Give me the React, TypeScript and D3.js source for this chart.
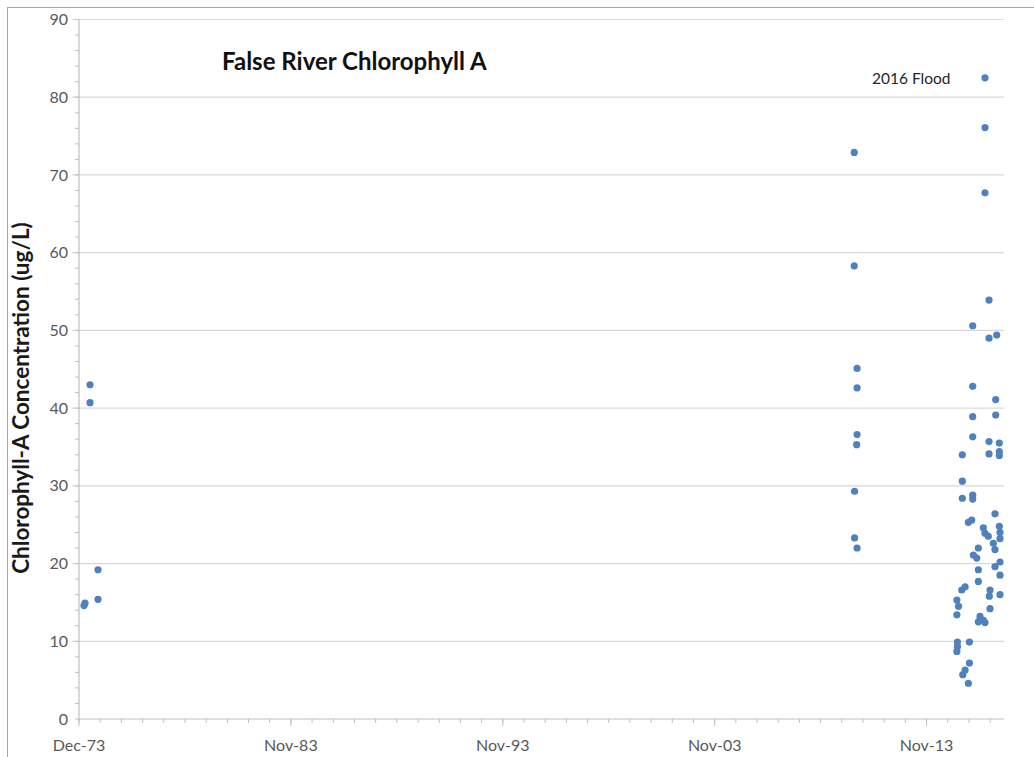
import React from "react";
import * as d3 from "d3";

// ---- data (sample date, chlorophyll-a ug/L) ----
const early1970s: [string, number][] = [
  ["1974-02-25", 14.6],
  ["1974-03-14", 14.9],
  ["1974-06-09", 43.0],
  ["1974-06-09", 40.7],
  ["1974-10-24", 19.2],
  ["1974-10-24", 15.4],
];

const survey2010: [string, number][] = [
  ["2010-06-24", 72.9],
  ["2010-06-24", 58.3],
  ["2010-06-30", 29.3],
  ["2010-06-30", 23.3],
  ["2010-08-12", 45.1],
  ["2010-08-12", 42.6],
  ["2010-08-12", 36.6],
  ["2010-08-05", 35.3],
  ["2010-08-12", 22.0],
];

const survey2015to2017: [string, number][] = [
  ["2016-08-24", 82.5],
  ["2016-08-24", 76.1],
  ["2016-08-24", 67.7],
  ["2016-11-01", 53.9],
  ["2016-01-25", 50.6],
  ["2016-11-01", 49.0],
  ["2017-03-13", 49.4],
  ["2016-01-25", 42.8],
  ["2017-02-24", 41.1],
  ["2016-01-25", 38.9],
  ["2017-02-24", 39.1],
  ["2016-01-25", 36.3],
  ["2016-11-01", 35.7],
  ["2017-04-27", 35.5],
  ["2016-11-01", 34.1],
  ["2017-04-27", 34.4],
  ["2017-04-27", 33.9],
  ["2015-07-30", 34.0],
  ["2015-07-30", 30.6],
  ["2015-07-30", 28.4],
  ["2016-01-25", 28.8],
  ["2016-01-25", 28.3],
  ["2016-01-08", 25.6],
  ["2015-11-11", 25.3],
  ["2017-02-12", 26.4],
  ["2016-07-26", 24.6],
  ["2017-04-27", 24.8],
  ["2016-08-24", 23.9],
  ["2016-10-19", 23.5],
  ["2017-05-09", 24.0],
  ["2017-05-09", 23.2],
  ["2017-01-14", 22.6],
  ["2017-02-12", 21.8],
  ["2016-05-01", 22.0],
  ["2016-02-05", 21.1],
  ["2016-04-04", 20.7],
  ["2017-05-09", 20.2],
  ["2017-02-12", 19.6],
  ["2017-05-09", 18.5],
  ["2016-05-01", 19.2],
  ["2016-05-01", 17.7],
  ["2015-09-16", 17.0],
  ["2015-07-20", 16.6],
  ["2015-04-27", 15.3],
  ["2015-05-26", 14.5],
  ["2015-04-27", 13.4],
  ["2016-11-18", 16.6],
  ["2016-11-06", 15.8],
  ["2017-05-09", 16.0],
  ["2016-11-18", 14.2],
  ["2016-05-30", 13.2],
  ["2016-07-26", 12.7],
  ["2016-05-01", 12.5],
  ["2016-08-24", 12.4],
  ["2015-05-07", 9.9],
  ["2015-11-29", 9.9],
  ["2015-05-07", 9.3],
  ["2015-04-27", 8.7],
  ["2015-11-29", 7.2],
  ["2015-09-16", 6.3],
  ["2015-08-07", 5.7],
  ["2015-11-11", 4.6],
];

const yTicks = [0, 10, 20, 30, 40, 50, 60, 70, 80, 90];
const xTickLabels = ["Dec-73", "Nov-83", "Nov-93", "Nov-03", "Nov-13"];
const titleText = "False River Chlorophyll A";
const yAxisTitle = "Chlorophyll-A Concentration (ug/L)";
const annotationText = "2016 Flood";

const W = 1034;
const H = 757;
const DAY = 86400000;
const axisStart = new Date(1973, 11, 1);
const axisEnd = new Date(axisStart.getTime() + 15934 * DAY);
const FONT = "Lato, 'Open Sans', sans-serif";

export default function App() {
  const x = d3.scaleTime().domain([axisStart, axisEnd]).range([79, 1004]);
  const y = d3.scaleLinear().domain([0, 90]).range([719, 19.5]);

  const parse = d3.timeParse("%Y-%m-%d");
  const all = [...early1970s, ...survey2010, ...survey2015to2017].map(
    ([d, v]) => ({ date: parse(d) as Date, v })
  );

  const majorX = xTickLabels.map((_, i) => new Date(axisStart.getTime() + i * 3650 * DAY));
  const minorX: Date[] = [];
  for (let k = 0; ; k++) {
    const d = new Date(axisStart.getTime() + k * 365 * DAY);
    if (d > axisEnd) break;
    minorX.push(d);
  }
  const minorY = d3.range(0, 91, 2);

  const x0 = x.range()[0];
  const x1 = x.range()[1];
  const yb = y(0);

  return (
    <svg
      width={W}
      height={H}
      style={{ position: "absolute", left: 0, top: 0, background: "#fff" }}
      fontFamily={FONT}
    >
      <rect x={0} y={0} width={W} height={H} fill="#fff" />
      <rect x={7.5} y={7.5} width={W + 10} height={H + 10} fill="none" stroke="#a6a6a6" />
      {/* gridlines */}
      {yTicks.filter((t) => t > 0).map((t) => (
        <line key={"g" + t} x1={x0 - 7} x2={x1} y1={y(t)} y2={y(t)} stroke="#d9d9d9" strokeWidth={1.2} />
      ))}
      {/* y minor ticks */}
      {minorY.map((t) => (
        <line key={"ym" + t} x1={x0 - 4} x2={x0} y1={y(t)} y2={y(t)} stroke="#bfbfbf" />
      ))}
      {/* y axis */}
      <line x1={x0} x2={x0} y1={y(90)} y2={yb} stroke="#bfbfbf" strokeWidth={1.2} />
      {yTicks.map((t) => (
        <text key={"yt" + t} x={x0 - 11} y={y(t)} dy="0.35em" textAnchor="end" fontSize={16} fill="#595959">
          {t}
        </text>
      ))}
      {/* x axis */}
      <line x1={x0} x2={x1} y1={yb} y2={yb} stroke="#bfbfbf" strokeWidth={1.2} />
      {minorX.map((d, i) => (
        <line key={"xm" + i} x1={x(d)} x2={x(d)} y1={yb} y2={yb + 4} stroke="#bfbfbf" />
      ))}
      {majorX.map((d, i) => (
        <g key={"xt" + i}>
          <line x1={x(d)} x2={x(d)} y1={yb} y2={yb + 7} stroke="#bfbfbf" />
          <text x={x(d)} y={751} textAnchor="middle" fontSize={16} fill="#595959">
            {xTickLabels[i]}
          </text>
        </g>
      ))}
      {/* points */}
      {all.map((p, i) => (
        <circle key={"p" + i} cx={x(p.date)} cy={y(p.v)} r={3.6} fill="#4f81bd" />
      ))}
      {/* titles */}
      <text x={222} y={70} fontSize={24} fontWeight="bold" fill="#111">
        {titleText}
      </text>
      <text x={872} y={84} fontSize={15.5} fill="#262626">
        {annotationText}
      </text>
      <text
        transform={`translate(29,398) rotate(-90)`}
        textAnchor="middle"
        fontSize={22.5}
        fontWeight="bold"
        fill="#1a1a1a"
      >
        {yAxisTitle}
      </text>
    </svg>
  );
}
